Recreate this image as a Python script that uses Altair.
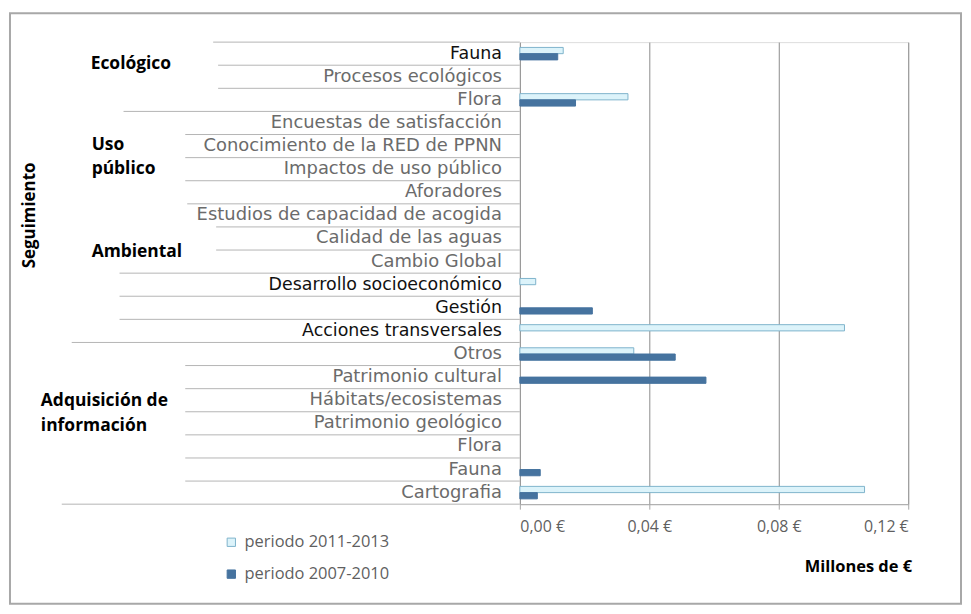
import altair as alt
import pandas as pd

# ---- data ----
labels = ["Fauna", "Procesos ecológicos", "Flora", "Encuestas de satisfacción",
          "Conocimiento de la RED de PPNN", "Impactos de uso público", "Aforadores",
          "Estudios de capacidad de acogida", "Calidad de las aguas", "Cambio Global",
          "Desarrollo socioeconómico", "Gestión", "Acciones transversales", "Otros",
          "Patrimonio cultural", "Hábitats/ecosistemas", "Patrimonio geológico",
          "Flora", "Fauna", "Cartografia"]
v_2011_2013 = [0.0134, 0, 0.0334, 0, 0, 0, 0, 0, 0, 0,
               0.0049, 0, 0.1003, 0.0352, 0, 0, 0, 0, 0, 0.1065]
v_2007_2010 = [0.0117, 0, 0.0172, 0, 0, 0, 0, 0, 0, 0,
               0, 0.0224, 0, 0.0480, 0.0575, 0, 0, 0, 0.0063, 0.0054]
series = ["periodo 2011-2013", "periodo 2007-2010"]
x_ticks = [0, 0.04, 0.08, 0.12]
emphasised = [0, 10, 11, 12]

# ---- layout / style (page px -> plot px) ----
X0, Y0 = 522, 41           # page position of plot origin
W, H = 390, 464
boundary_start = [214, 219, 219, 124, 186, 186, 186, 188, 217, 217,
                  120, 120, 120, 72, 186, 186, 186, 186, 186, 186, 62]
LIGHT, LIGHT_STROKE, DARK = "#dcf3fa", "#7fb3cc", "#46739f"
FONT = "Open Sans"
CAT_FONT = "DejaVu Sans"

keys = [f"r{i:02d}" for i in range(len(labels))]
rows = []
for k, lab, a, b in zip(keys, labels, v_2011_2013, v_2007_2010):
    rows.append({"key": k, "label": lab, "serie": series[0], "valor": a})
    rows.append({"key": k, "label": lab, "serie": series[1], "valor": b})
bars_df = pd.DataFrame(rows)
label_df = pd.DataFrame({"key": keys, "label": labels,
                         "emph": [i in emphasised for i in range(len(labels))]})
bound_df = pd.DataFrame({"b": list(range(len(labels) + 1)),
                         "xs": [s - X0 for s in boundary_start]})

ysc = alt.Scale(domain=keys, paddingInner=0.46, paddingOuter=0.23)

bars = alt.Chart(bars_df).transform_filter("datum.valor > 0").mark_bar(strokeWidth=1).encode(
    y=alt.Y("key:N", scale=ysc, axis=None),
    yOffset=alt.YOffset("serie:N", scale=alt.Scale(domain=series, paddingInner=0, paddingOuter=0)),
    x=alt.X("valor:Q", scale=alt.Scale(domain=[0, 0.12], nice=False),
            axis=alt.Axis(values=x_ticks, title=None, grid=True, gridColor="#8c8c8c",
                          domainColor="#a6a6a6", tickColor="#a6a6a6", tickSize=5,
                          labelExpr="replace(format(datum.value, '.2f'), '.', ',') + ' €'",
                          labelFont=FONT, labelFontSize=16, labelColor="#5f5f5f",
                          labelPadding=9)),
    fill=alt.Fill("serie:N", scale=alt.Scale(domain=series, range=[LIGHT, DARK]),
                  legend=alt.Legend(title=None, orient="none", legendX=-298, legendY=494,
                                    symbolType="square", symbolSize=70,
                                    symbolStrokeColor="#8aa6bd", symbolStrokeWidth=1,
                                    labelFont=FONT, labelFontSize=16.5, labelColor="#5f5f5f",
                                    rowPadding=15, labelOffset=5)),
    stroke=alt.Stroke("serie:N", scale=alt.Scale(domain=series, range=[LIGHT_STROKE, DARK]),
                      legend=None),
)

cat_labels = alt.Chart(label_df).mark_text(align="right", baseline="middle", font=CAT_FONT).encode(
    y=alt.Y("key:N", scale=ysc, axis=None),
    x=alt.value(-18),
    text="label:N",
    color=alt.condition("datum.emph", alt.value("#111111"), alt.value("#6b6b6b")),
    size=alt.condition("datum.emph", alt.value(17.5), alt.value(18)),
)

bounds = alt.Chart(bound_df).mark_rule(color="#b4b4b4", strokeWidth=1).encode(
    y=alt.Y("b:Q", scale=alt.Scale(domain=[0, len(labels)], reverse=True, nice=False), axis=None),
    x=alt.X("xs:Q", scale=None),
    x2=alt.value(0),
)


def note(text, x, y, align="left", size=18, **kw):
    return alt.Chart(alt.Data(values=[{}])).mark_text(
        text=text, font=FONT, fontWeight="bold", fontSize=size, color="#000000",
        align=align, baseline="middle", **kw).encode(
        x=alt.value(x - X0), y=alt.value(y - Y0))


notes = [
    note("Ecológico", 91, 63, size=17.5),
    note(["Uso", "público"], 92, 144, lineHeight=24, size=17.5),
    note("Ambiental", 92, 252, size=17.5),
    note(["Adquisición  de", "información"], 41, 401, lineHeight=26, size=17.5),
    note("Seguimiento", 30, 215, angle=270, align="center", size=17),
    note("Millones de €", 862, 568, align="center", size=16.5),
]

frame = alt.Chart(alt.Data(values=[{}])).mark_rect(
    fillOpacity=0, stroke="#a8a8a8", strokeWidth=2).encode(
    x=alt.value(10 - X0), x2=alt.value(965 - X0),
    y=alt.value(12 - Y0), y2=alt.value(605 - Y0))

chart = alt.layer(frame, bounds, bars, cat_labels, *notes).resolve_scale(
    y="independent"
).properties(
    width=W, height=H,
    autosize=alt.AutoSizeParams(type="none"),
    padding={"left": X0 - 8, "top": Y0 - 8, "right": 55, "bottom": 102},
).configure_view(strokeWidth=0).configure(background="white")

chart.save("out.html", embed_options={"renderer": "svg", "actions": False})
